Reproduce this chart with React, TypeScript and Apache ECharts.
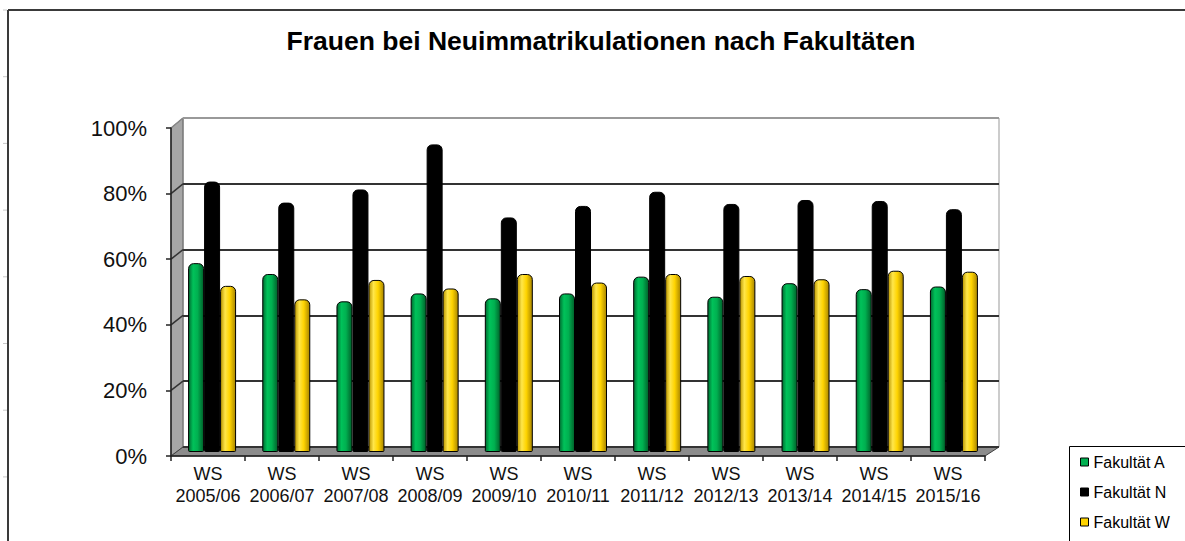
import React, { useEffect, useRef } from "react";
import * as echarts from "echarts";

const categories = [
  "WS\n2005/06", "WS\n2006/07", "WS\n2007/08", "WS\n2008/09", "WS\n2009/10", "WS\n2010/11",
  "WS\n2011/12", "WS\n2012/13", "WS\n2013/14", "WS\n2014/15", "WS\n2015/16",
];
const fakultaetA = [57.4, 54.1, 45.8, 48.2, 46.7, 48.2, 53.3, 47.2, 51.3, 49.5, 50.3];
const fakultaetN = [82.2, 75.8, 79.8, 93.5, 71.3, 74.8, 79.1, 75.4, 76.6, 76.3, 73.8];
const fakultaetW = [50.5, 46.4, 52.3, 49.7, 54.1, 51.5, 54.1, 53.5, 52.5, 55.1, 54.8];
const seriesNames = ["Fakultät A", "Fakultät N", "Fakultät W"];
const yTicks = [0, 20, 40, 60, 80, 100];

const W = 1185;
const H = 541;
const FRONT = { left: 171, right: 985, top: 128, bottom: 456 };
const BACK = { left: 183, right: 999, top: 118, bottom: 447 };
const BARS = { left: 175, right: 991, top: 123, bottom: 452 };

const FONT = "Arial, 'Liberation Sans', sans-serif";

function yOn(box: { top: number; bottom: number }, v: number) {
  return box.bottom - ((box.bottom - box.top) * v) / 100;
}

function grad(stops: [number, string][]) {
  return new echarts.graphic.LinearGradient(0, 0, 1, 0, stops.map(([offset, color]) => ({ offset, color })));
}

export default function App() {
  const ref = useRef<HTMLDivElement>(null);
  useEffect(() => {
    document.body.style.margin = "0";
    const chart = echarts.init(ref.current!, null, { renderer: "svg" });

    const graphics: any[] = [];
    // outer frame
    graphics.push({ type: "line", shape: { x1: 8, y1: 10, x2: 8, y2: H }, style: { stroke: "#3a3a3a", lineWidth: 2 }, z: 0 });
    graphics.push({ type: "line", shape: { x1: 8, y1: 10, x2: W, y2: 10 }, style: { stroke: "#3a3a3a", lineWidth: 2 }, z: 0 });
    for (let i = 0; i < 8; i++) {
      const y = 10 + i * 66.7;
      graphics.push({ type: "line", shape: { x1: 3, y1: y, x2: 7, y2: y }, style: { stroke: "#c8c8c8", lineWidth: 1 }, z: 0 });
    }
    // legend frame (runs past the page edge)
    graphics.push({
      type: "rect",
      shape: { x: 1069.5, y: 446.5, width: 200, height: 150 },
      style: { fill: "none", stroke: "#000", lineWidth: 1 },
      z: 0,
    });
    // left wall
    graphics.push({
      type: "polygon",
      shape: { points: [[FRONT.left, FRONT.top], [BACK.left, BACK.top], [BACK.left, BACK.bottom], [FRONT.left, FRONT.bottom]] },
      style: { fill: "#a6a6a6", stroke: "#606060", lineWidth: 1 },
      z: 0,
    });
    // floor
    graphics.push({
      type: "polygon",
      shape: { points: [[FRONT.left, FRONT.bottom], [BACK.left, BACK.bottom], [BACK.right, BACK.bottom], [FRONT.right, FRONT.bottom]] },
      style: { fill: "#8c8c8c", stroke: "#404040", lineWidth: 1 },
      z: 1,
    });
    // gridline extensions on the left wall
    yTicks.forEach((v) => {
      if (v === 0) return;
      graphics.push({
        type: "line",
        shape: { x1: FRONT.left, y1: yOn(FRONT, v), x2: BACK.left, y2: yOn(BACK, v) },
        style: { stroke: v === 100 ? "#888" : "#333", lineWidth: 1.5 },
        z: 1,
      });
    });

    const colors = ["#00b050", "#000000", "#ffd400"];
    const fills = [
      grad([[0, "#006b30"], [0.3, "#00c25a"], [0.6, "#00b050"], [1, "#00602a"]]),
      "#000000",
      grad([[0, "#b89400"], [0.3, "#ffe64a"], [0.6, "#ffd400"], [1, "#a88500"]]),
    ];
    const datas = [fakultaetA, fakultaetN, fakultaetW];

    chart.setOption({
      animation: false,
      backgroundColor: "#ffffff",
      title: {
        text: "Frauen bei Neuimmatrikulationen nach Fakultäten",
        left: 596,
        textAlign: "center",
        top: 22,
        textStyle: { fontFamily: FONT, fontSize: 26.5, fontWeight: "bold", color: "#000" },
      },
      legend: {
        orient: "vertical",
        left: 1069,
        top: 446,
        padding: [8, 10, 10, 11],
        itemGap: 14,
        itemWidth: 8,
        itemHeight: 8,
        icon: "rect",
        textStyle: { fontFamily: FONT, fontSize: 16, color: "#000" },
        itemStyle: { borderColor: "#000", borderWidth: 1 },
        data: seriesNames.map((n, i) => ({ name: n, itemStyle: { color: colors[i], borderColor: "#000", borderWidth: 1 } })),
      },
      graphic: { elements: graphics },
      grid: [
        { left: FRONT.left, right: W - FRONT.right, top: FRONT.top, bottom: H - FRONT.bottom, outerBoundsMode: "none" },
        {
          left: BACK.left, right: W - BACK.right, top: BACK.top, bottom: H - BACK.bottom,
          show: true, borderColor: "#999", borderWidth: 1, backgroundColor: "transparent", outerBoundsMode: "none",
        },
        { left: BARS.left, right: W - BARS.right, top: BARS.top, bottom: H - BARS.bottom, outerBoundsMode: "none" },
      ],
      xAxis: [
        {
          gridIndex: 0,
          type: "category",
          data: categories,
          z: 5,
          axisLine: { show: true, lineStyle: { color: "#222", width: 1.5 } },
          axisTick: { show: true, length: 5, lineStyle: { color: "#222", width: 1.5 } },
          axisLabel: { fontFamily: FONT, fontSize: 18, lineHeight: 22, margin: 7, color: "#111", interval: 0 },
          splitLine: { show: false },
        },
        { gridIndex: 1, type: "category", data: categories, show: false },
        { gridIndex: 2, type: "category", data: categories, show: false },
      ],
      yAxis: [
        {
          gridIndex: 0,
          type: "value",
          min: 0,
          max: 100,
          interval: 20,
          z: 5,
          axisLine: { show: true, lineStyle: { color: "#222", width: 1.5 } },
          axisTick: { show: true, length: 5, lineStyle: { color: "#222", width: 1.5 } },
          axisLabel: { formatter: "{value}%", fontFamily: FONT, fontSize: 22, margin: 24, color: "#111" },
          splitLine: { show: false },
        },
        {
          gridIndex: 1,
          type: "value",
          min: 0,
          max: 100,
          interval: 20,
          z: 1,
          axisLine: { show: false },
          axisTick: { show: false },
          axisLabel: { show: false },
          splitLine: { show: true, lineStyle: { color: ["#333", "#333", "#333", "#333", "#333", "#999"], width: 2 } },
        },
        { gridIndex: 2, type: "value", min: 0, max: 100, interval: 20, show: false },
      ],
      series: datas.map((d, i) => ({
        name: seriesNames[i],
        type: "bar",
        xAxisIndex: 2,
        yAxisIndex: 2,
        data: d,
        barWidth: 16,
        barGap: "0%",
        z: 3,
        itemStyle: {
          color: fills[i],
          borderColor: "#000",
          borderWidth: 1,
          borderRadius: [5, 5, 1, 1],
        },
      })),
    });
    return () => chart.dispose();
  }, []);
  return <div ref={ref} style={{ width: W, height: H }} />;
}
